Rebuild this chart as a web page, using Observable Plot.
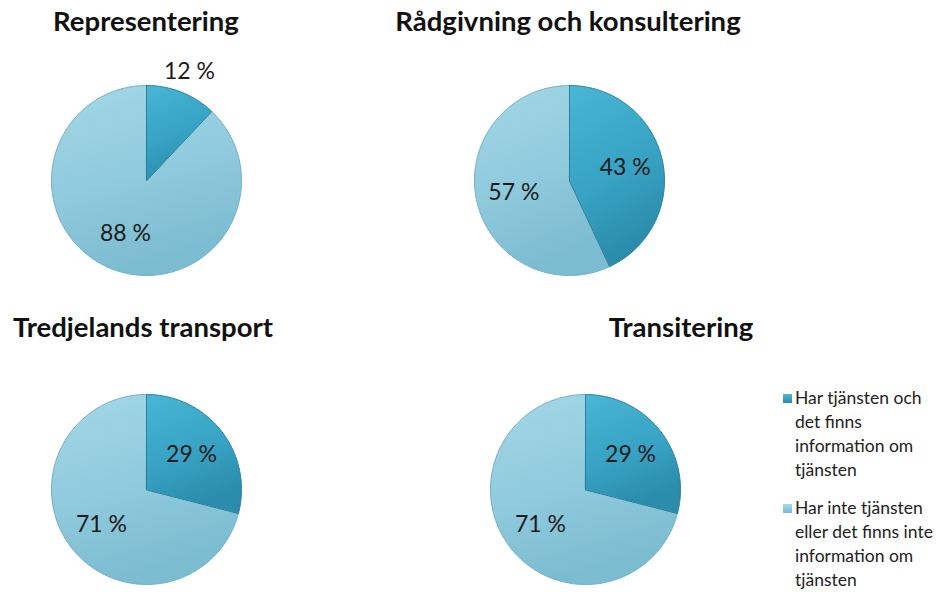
<!DOCTYPE html>
<html>
<head>
<meta charset="utf-8">
<script src="https://cdn.jsdelivr.net/npm/d3@7"></script>
<script src="https://cdn.jsdelivr.net/npm/@observablehq/plot@0.6"></script>
<style>
  html, body { margin: 0; padding: 0; background: #fff; }
  #root { position: relative; width: 941px; height: 592px; overflow: hidden; font-family: Lato, "Open Sans", sans-serif; color: #111; }
  .title { position: absolute; font-weight: bold; font-size: 27.5px; white-space: nowrap; transform: translateX(-50%); line-height: 1; }
  .pie { position: absolute; }
  .legend { position: absolute; left: 783px; font-size: 17.5px; line-height: 24px; color: #222; }
  .legend .item { position: relative; padding-left: 12px; width: 160px; white-space: nowrap; }
  .legend .sw { position: absolute; left: 0; top: 8px; width: 9px; height: 9px; }
</style>
</head>
<body>
<div id="root"></div>
<script>
// ---- data ----
const titles = ["Representering", "Rådgivning och konsultering", "Tredjelands transport", "Transitering"];
const hasService = [12, 43, 29, 29];      // "Har tjänsten och det finns information om tjänsten"
const noService = [88, 57, 71, 71];       // "Har inte tjänsten eller det finns inte information om tjänsten"
const seriesNames = [
  "Har tjänsten och det finns information om tjänsten",
  "Har inte tjänsten eller det finns inte information om tjänsten"
];
const legendLines = [
  ["Har tjänsten och", "det finns", "information om", "tjänsten"],
  ["Har inte tjänsten", "eller det finns inte", "information om", "tjänsten"]
];

// ---- layout ----
const pieLayout = [
  {cx: 146, cy: 180, tx: 146, ty: 7},
  {cx: 569, cy: 180, tx: 568, ty: 7},
  {cx: 146, cy: 489, tx: 143, ty: 313},
  {cx: 585, cy: 489, tx: 681, ty: 313}
];
const R = 95, M = 40, S = 2 * R + 2 * M;

const root = document.getElementById("root");
const NS = "http://www.w3.org/2000/svg";

function gradDefs() {
  const defs = document.createElementNS(NS, "defs");
  defs.innerHTML = `
    <linearGradient id="gDark" x1="0" y1="0" x2="0.3" y2="1">
      <stop offset="0" stop-color="#48b6d5"/>
      <stop offset="0.6" stop-color="#37a2c3"/>
      <stop offset="1" stop-color="#2b8cab"/>
    </linearGradient>
    <linearGradient id="gLight" x1="0" y1="0" x2="0.3" y2="1">
      <stop offset="0" stop-color="#a3d8e7"/>
      <stop offset="0.55" stop-color="#90cadd"/>
      <stop offset="1" stop-color="#7cbcd1"/>
    </linearGradient>`;
  return defs;
}

function slicePoints(frac0, frac1, name) {
  const pts = [{slice: name, x: 0, y: 0}];
  const n = Math.max(2, Math.ceil((frac1 - frac0) * 360));
  for (let k = 0; k <= n; ++k) {
    const a = 2 * Math.PI * (frac0 + (frac1 - frac0) * k / n);
    pts.push({slice: name, x: Math.sin(a), y: Math.cos(a)});
  }
  return pts;
}

titles.forEach((t, i) => {
  const L = pieLayout[i];
  const values = [hasService[i], noService[i]];
  const total = d3.sum(values);
  let acc = 0;
  const slices = values.map((v, j) => {
    const f0 = acc / total; acc += v; const f1 = acc / total;
    const mid = 2 * Math.PI * (f0 + f1) / 2;
    const rr = (v / total) < 0.15 ? 1.23 : 0.6;
    return {name: seriesNames[j], v, f0, f1, lx: rr * Math.sin(mid), ly: rr * Math.cos(mid), label: `${v} %`};
  });
  const dark = slicePoints(slices[0].f0, slices[0].f1, seriesNames[0]);
  const light = slicePoints(slices[1].f0, slices[1].f1, seriesNames[1]);

  const plot = Plot.plot({
    width: S, height: S, margin: M,
    x: {domain: [-1, 1], axis: null},
    y: {domain: [-1, 1], axis: null},
    style: {background: "transparent", overflow: "visible"},
    marks: [
      () => { const g = document.createElementNS(NS, "g"); g.appendChild(gradDefs()); return g; },
      Plot.line(light, {x: "x", y: "y", curve: "linear-closed", fill: "url(#gLight)", stroke: "#6fb0c6", strokeWidth: 1}),
      Plot.line(dark, {x: "x", y: "y", curve: "linear-closed", fill: "url(#gDark)", stroke: "#2a7f9b", strokeWidth: 1}),
      Plot.text(slices, {x: "lx", y: "ly", text: "label", fontSize: 23, fill: "#1b1b1b", fontFamily: "Lato, sans-serif"})
    ]
  });
  plot.classList.add("pie");
  plot.style.left = (L.cx - S / 2) + "px";
  plot.style.top = (L.cy - S / 2) + "px";
  root.appendChild(plot);

  const td = document.createElement("div");
  td.className = "title";
  td.textContent = t;
  td.style.left = L.tx + "px";
  td.style.top = L.ty + "px";
  root.appendChild(td);
});

// legend
const legend = document.createElement("div");
legend.className = "legend";
legend.style.top = "386px";
const swFill = ["linear-gradient(#4fb9d6, #2a89a8)", "linear-gradient(#a8dbe9, #78b8ce)"];
legendLines.forEach((lines, j) => {
  const item = document.createElement("div");
  item.className = "item";
  item.style.marginBottom = j === 0 ? "14px" : "0";
  item.title = seriesNames[j];
  const sw = document.createElement("span");
  sw.className = "sw";
  sw.style.background = swFill[j];
  item.appendChild(sw);
  lines.forEach(l => { const d = document.createElement("div"); d.textContent = l; item.appendChild(d); });
  legend.appendChild(item);
});
root.appendChild(legend);
</script>
</body>
</html>
